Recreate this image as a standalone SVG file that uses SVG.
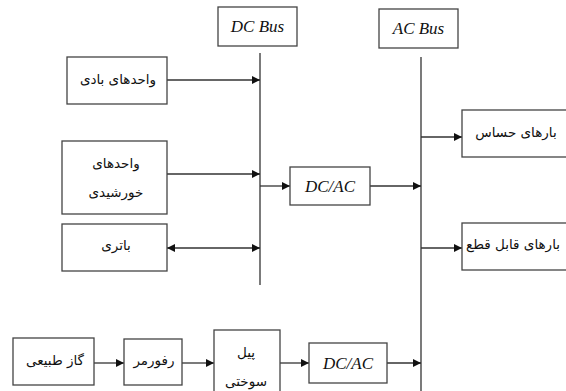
<svg xmlns="http://www.w3.org/2000/svg" width="566" height="391" viewBox="0 0 566 391">
<style>
  .box { fill: #fff; stroke: #444; stroke-width: 1.3; }
  .ln { fill: none; stroke: #333; stroke-width: 1.3; }
  .fa { font-family: "DejaVu Sans", sans-serif; font-size: 13.5px; fill: #111; text-anchor: middle; }
  .en { font-family: "Liberation Serif", serif; font-style: italic; font-size: 17px; fill: #111; text-anchor: middle; }
</style>
<defs>
  <marker id="ah" viewBox="0 0 10 10" refX="10" refY="5" markerWidth="8" markerHeight="8" markerUnits="userSpaceOnUse" orient="auto-start-reverse">
    <path d="M0,0 L10,5 L0,10 Z" fill="#111"/>
  </marker>
</defs>
<rect width="566" height="391" fill="#fff"/>

<g id="connectors">
  <line class="ln" x1="260" y1="53" x2="260" y2="285"/>
  <line class="ln" x1="421" y1="57" x2="421" y2="391"/>
  <line class="ln" x1="167" y1="80" x2="260" y2="80" marker-end="url(#ah)"/>
  <line class="ln" x1="167" y1="174" x2="260" y2="174" marker-end="url(#ah)"/>
  <line class="ln" x1="167" y1="248" x2="260" y2="248" marker-start="url(#ah)" marker-end="url(#ah)"/>
  <line class="ln" x1="260" y1="186" x2="290" y2="186" marker-end="url(#ah)"/>
  <line class="ln" x1="370" y1="186" x2="421" y2="186" marker-end="url(#ah)"/>
  <line class="ln" x1="421" y1="137" x2="462" y2="137" marker-end="url(#ah)"/>
  <line class="ln" x1="421" y1="248" x2="462" y2="248" marker-end="url(#ah)"/>
  <line class="ln" x1="94" y1="363" x2="124" y2="363" marker-end="url(#ah)"/>
  <line class="ln" x1="182" y1="363" x2="214" y2="363" marker-end="url(#ah)"/>
  <line class="ln" x1="280" y1="363" x2="309" y2="363" marker-end="url(#ah)"/>
  <line class="ln" x1="387" y1="363" x2="421" y2="363" marker-end="url(#ah)"/>
</g>

<g id="dcbus">
  <rect class="box" x="218" y="7" width="79" height="39"/>
  <text class="en" x="257.5" y="32">DC Bus</text>
</g>
<g id="acbus">
  <rect class="box" x="379" y="9" width="79" height="39"/>
  <text class="en" x="418.5" y="34">AC Bus</text>
</g>
<g id="wind">
  <rect class="box" x="67" y="57" width="100" height="47"/>
  <text class="fa" x="118" y="84">واحدهای بادی</text>
</g>
<g id="solar">
  <rect class="box" x="62" y="141" width="105" height="73"/>
  <text class="fa" x="116" y="168">واحدهای</text>
  <text class="fa" x="116" y="197">خورشیدی</text>
</g>
<g id="battery">
  <rect class="box" x="62" y="224" width="105" height="47"/>
  <text class="fa" x="116" y="250">باتری</text>
</g>
<g id="dcac1">
  <rect class="box" x="290" y="167" width="80" height="38"/>
  <text class="en" x="330" y="192">DC/AC</text>
</g>
<g id="sensitive">
  <rect class="box" x="462" y="110" width="110" height="47"/>
  <text class="fa" x="516" y="137">بارهای حساس</text>
</g>
<g id="interruptible">
  <rect class="box" x="462" y="223" width="110" height="47"/>
  <text class="fa" x="513" y="249">بارهای قابل قطع</text>
</g>
<g id="gas">
  <rect class="box" x="13" y="338" width="81" height="47"/>
  <text class="fa" x="55" y="365">گاز طبیعی</text>
</g>
<g id="reformer">
  <rect class="box" x="124" y="339" width="58" height="46"/>
  <text class="fa" x="154" y="365">رفورمر</text>
</g>
<g id="fuelcell">
  <rect class="box" x="214" y="330" width="66" height="70"/>
  <text class="fa" x="246" y="357">پیل</text>
  <text class="fa" x="246" y="386">سوختی</text>
</g>
<g id="dcac2">
  <rect class="box" x="309" y="343" width="78" height="40"/>
  <text class="en" x="348" y="369">DC/AC</text>
</g>
</svg>
